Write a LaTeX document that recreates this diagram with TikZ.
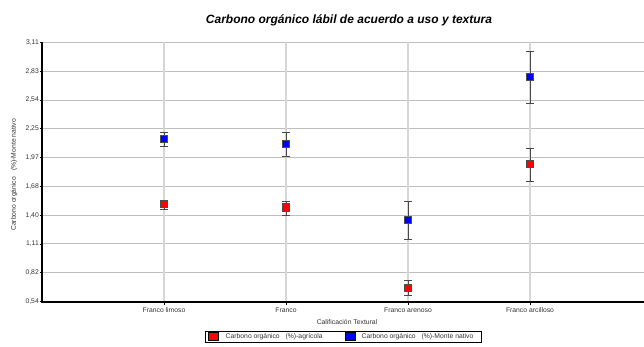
\documentclass[tikz,border=0pt]{standalone}
\usepackage{fontspec}
\setmainfont{Liberation Sans}
\begin{document}
\begin{tikzpicture}[x=1pt,y=-1pt,
  hgrid/.style={draw=black!25, line width=1pt},
  vgrid/.style={draw=black!16, line width=1.5pt},
  axisline/.style={draw=black, line width=1.7pt},
  lbl/.style={font=\fontsize{6.8}{8}\selectfont, text=black!80, inner sep=0pt},
  errline/.style={draw=black!72, line width=0.9pt},
  mk/.style={rectangle, draw=black!70, line width=0.6pt, minimum size=7pt, inner sep=0pt},
  redmk/.style={mk, fill=red},
  bluemk/.style={mk, fill=blue},
  legmk/.style={rectangle, draw=black, line width=0.6pt, minimum width=10pt, minimum height=7.5pt, inner sep=0pt}]
\useasboundingbox (0,0) rectangle (644,347);

% title
\node[font=\fontsize{12}{14}\selectfont\bfseries\itshape, inner sep=0pt] (title) at (349,20) {Carbono orgánico lábil de acuerdo a uso y textura};

% horizontal grid lines and y tick labels
\foreach \i/\v in {0/{3,11},1/{2,83},2/{2,54},3/{2,25},4/{1,97},5/{1,68},6/{1,40},7/{1,11},8/{0,82},9/{0,54}}{
  \pgfmathsetmacro{\yy}{42.5+\i*28.78}
  \coordinate (gl\i) at (42,\yy);
  \coordinate (gr\i) at (644,\yy);
  \coordinate (tk\i) at (39.5,\yy);
  \ifnum\i<9 \draw[hgrid] (gl\i) -- (gr\i); \fi
  \draw[black, line width=0.8pt] (tk\i) -- (gl\i);
  \node[lbl, anchor=east] (yl\i) at (39,\yy) {\v};
}

% vertical grid lines and category labels
\foreach \n/\x/\t in {1/164/Franco limoso,2/286/Franco,3/408/Franco arenoso,4/530/Franco arcilloso}{
  \coordinate (vt\n) at (\x,42.5);
  \coordinate (vb\n) at (\x,302);
  \coordinate (vk\n) at (\x,304.5);
  \draw[vgrid] (vt\n) -- (vb\n);
  \draw[black, line width=0.8pt] (vb\n) -- (vk\n);
  \node[lbl] (cat\n) at (\x,310.5) {\t};
}

% error bars
\foreach \n/\x/\top/\bot in {b1/164/132.7/146.7, r1/164/200.3/209.3,
                              b2/286/132.7/156, r2/286/201.3/215,
                              b3/408/201/239.3, r3/408/280.7/295.3,
                              b4/530/51.7/103.3, r4/530/148.7/181.7}{
  \coordinate (\n t) at (\x,\top);
  \coordinate (\n b) at (\x,\bot);
  \coordinate (\n tl) at (\x-4,\top);
  \coordinate (\n tr) at (\x+4,\top);
  \coordinate (\n bl) at (\x-4,\bot);
  \coordinate (\n br) at (\x+4,\bot);
  \draw[errline] (\n t) -- (\n b);
  \draw[errline] (\n tl) -- (\n tr);
  \draw[errline] (\n bl) -- (\n br);
}

% markers
\node[bluemk] (mb1) at (164,139) {};
\node[redmk]  (mr1) at (164,204.3) {};
\node[bluemk] (mb2) at (286,144) {};
\node[redmk]  (mr2) at (286,207.3) {};
\node[bluemk] (mb3) at (408,220) {};
\node[redmk]  (mr3) at (408,287.3) {};
\node[bluemk] (mb4) at (530,76.7) {};
\node[redmk]  (mr4) at (530,164.3) {};

% axes
\coordinate (o) at (42,302);
\coordinate (ytop) at (42,42);
\coordinate (xend) at (644,302);
\draw[axisline] (ytop) -- (o) -- (xend);

% axis titles
\node[lbl, rotate=90] (ylab) at (14,175) {Carbono orgánico\hspace{4pt} (\%)-Monte nativo};
\node[lbl] (xlab) at (347,322) {Calificación Textural};

% legend
\node[draw=black, line width=0.7pt, minimum width=276pt, minimum height=11pt, inner sep=0pt] (leg) at (343,336.5) {};
\node[legmk, fill=red] (lr) at (213,336.5) {};
\node[lbl, anchor=west] (lrt) at (225.5,336.5) {Carbono orgánico\hspace{4pt} (\%)-agrícola};
\node[legmk, fill=blue] (lb) at (350,336.5) {};
\node[lbl, anchor=west] (lbt) at (361.5,336.5) {Carbono orgánico\hspace{4pt} (\%)-Monte nativo};
\end{tikzpicture}
\end{document}
